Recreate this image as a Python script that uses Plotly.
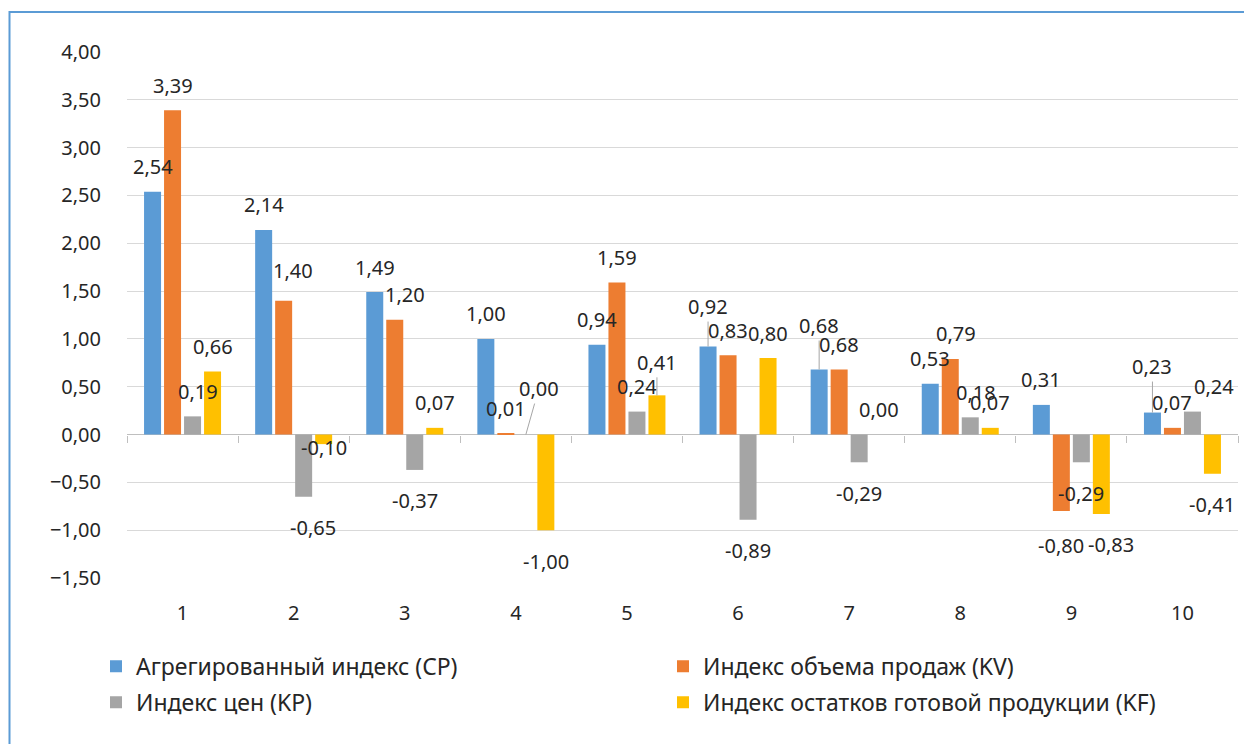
import plotly.graph_objects as go

categories = [1, 2, 3, 4, 5, 6, 7, 8, 9, 10]
series_names = [
    "Агрегированный индекс (CP)",
    "Индекс объема продаж (KV)",
    "Индекс цен (KP)",
    "Индекс остатков готовой продукции (KF)",
]
cp = [2.54, 2.14, 1.49, 1.00, 0.94, 0.92, 0.68, 0.53, 0.31, 0.23]
kv = [3.39, 1.40, 1.20, 0.01, 1.59, 0.83, 0.68, 0.79, -0.80, 0.07]
kp = [0.19, -0.65, -0.37, 0.00, 0.24, -0.89, -0.29, 0.18, -0.29, 0.24]
kf = [0.66, -0.10, 0.07, -1.00, 0.41, 0.80, 0.00, 0.07, -0.83, -0.41]
y_ticks = [-1.5, -1.0, -0.5, 0.0, 0.5, 1.0, 1.5, 2.0, 2.5, 3.0, 3.5, 4.0]

values = [cp, kv, kp, kf]
colors = ["#5B9BD5", "#ED7D31", "#A5A5A5", "#FFC000"]
legend_ids = ["legend", "legend2", "legend", "legend2"]

FONT = "Noto Sans"
FS = 20
LFS = 23
TXT = "#262626"
BARGAP = 0.28
n = len(values)
slot = (1 - BARGAP) / n

# label adjustments (series index, category index) -> (dx px, dy px; negative dy = up)
shift = {
    (2, 0): (5, 0),
    (1, 1): (9, -5), (2, 1): (9, 0), (3, 1): (0, -28),
    (1, 2): (10, 0),
    (1, 7): (6, 0), (2, 7): (6, 0),
    (1, 8): (0, 3), (3, 8): (10, 0),
    (2, 9): (22, 0),
}
# labels moved away with a leader line -> (ax, ay) in px
leaders = {
    (2, 3): (13, -46),
    (3, 4): (0, -33),
    (0, 5): (0, -40),
    (0, 6): (0, -44),
    (0, 9): (0, -46),
}

fig = go.Figure()
for i, (name, vals, col) in enumerate(zip(series_names, values, colors)):
    fig.add_trace(go.Bar(
        x=categories, y=vals, name=name,
        marker=dict(color=col, line=dict(width=0)),
        legend=legend_ids[i], legendgroup=f"g{i}",
        hoverinfo="x+y",
    ))

annotations = []
for i, vals in enumerate(values):
    off = (i - (n - 1) / 2) * slot
    for j, (c, v) in enumerate(zip(categories, vals)):
        text = f"{v:.2f}".replace(".", ",")
        if (i, j) in leaders:
            ax, ay = leaders[(i, j)]
            annotations.append(dict(
                x=c + off, y=v, xref="x", yref="y", text=text,
                showarrow=True, arrowhead=0, arrowwidth=1, arrowcolor="#A6A6A6",
                ax=ax, ay=ay, font=dict(family=FONT, size=FS, color=TXT),
            ))
        else:
            dx, dy = shift.get((i, j), (0, 0))
            base = 25 if v >= 0 else -31
            annotations.append(dict(
                x=c + off, y=v, xref="x", yref="y", text=text,
                showarrow=False, xshift=dx, yshift=base - dy,
                font=dict(family=FONT, size=FS, color=TXT),
            ))

# helper trace so the zero-position tick axis is drawn
fig.add_trace(go.Scatter(x=[], y=[], xaxis="x2", showlegend=False, hoverinfo="skip"))

legend_common = dict(
    orientation="v", xanchor="left", y=-0.127, yanchor="top",
    font=dict(family=FONT, size=LFS, color=TXT),
    bgcolor="rgba(0,0,0,0)", traceorder="grouped", tracegroupgap=3,
)

fig.update_layout(
    width=1244, height=744, autosize=False,
    margin=dict(l=127, r=6, t=52, b=166),
    paper_bgcolor="white", plot_bgcolor="white",
    separators=", ",
    barmode="group", bargap=BARGAP, bargroupgap=0.15,
    font=dict(family=FONT, size=FS, color=TXT),
    xaxis=dict(
        range=[0.5, 10.5], tickvals=categories, showgrid=False, zeroline=False,
        showline=False, ticks="", ticklabelstandoff=21,
        tickfont=dict(family=FONT, size=FS, color=TXT),
    ),
    xaxis2=dict(
        overlaying="x", anchor="free", position=1.5 / 5.5, side="bottom",
        range=[0.5, 10.5], tickvals=[k + 0.5 for k in range(0, 11)],
        ticks="outside", ticklen=7, tickcolor="#BFBFBF", tickwidth=1,
        showticklabels=False, showgrid=False, zeroline=False, showline=False,
    ),
    yaxis=dict(
        range=[-1.5, 4.0], tickvals=y_ticks, tickformat=".2f",
        showgrid=True, gridcolor="#D9D9D9", gridwidth=1,
        zeroline=True, zerolinecolor="#BFBFBF", zerolinewidth=1,
        showline=False, ticks="", ticklabelstandoff=25,
        tickfont=dict(family=FONT, size=FS, color=TXT),
    ),
    legend=dict(x=(96 - 127) / 1111, **legend_common),
    legend2=dict(x=(663 - 127) / 1111, **legend_common),
    annotations=annotations,
    shapes=[dict(
        type="rect", xref="paper", yref="paper",
        x0=(9.5 - 127) / 1111, x1=(1260 - 127) / 1111,
        y0=(578 - 770) / 526, y1=(578 - 12) / 526,
        line=dict(color="#5B9BD5", width=2), fillcolor="rgba(0,0,0,0)",
        layer="below",
    )],
    showlegend=True,
)

fig.write_html("out.html", config={"displayModeBar": False},
               post_script="document.body.style.margin='0';")
